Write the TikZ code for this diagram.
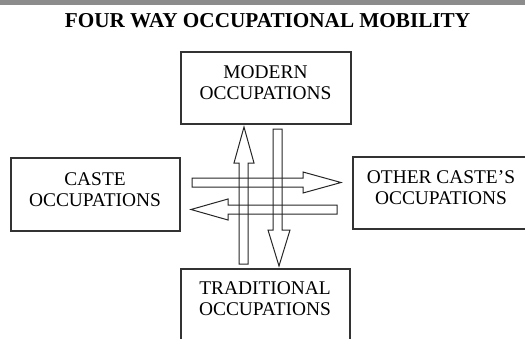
\documentclass[tikz,border=0pt]{standalone}
\usepackage{fontspec}
\setmainfont{Liberation Serif}

\tikzset{
  occbox/.style={draw=black!80,line width=1.4pt,inner sep=0pt},
  occtext/.style={align=center,font=\fontsize{19.4}{21}\selectfont,inner sep=0pt},
  blockarr/.style={draw=black!85,line width=1pt,line join=miter}
}

\begin{document}
\begin{tikzpicture}[x=1pt,y=-1pt]
  \clip (0,0) rectangle (525,338);
  \useasboundingbox (0,0) rectangle (525,338);
  % header rule and title
  \fill[black!45] (0,0) rectangle (525,4.5);
  \node[font=\fontsize{21.2}{24}\selectfont\bfseries,inner sep=0pt] (title) at (267.5,20.5)
    {FOUR WAY OCCUPATIONAL MOBILITY};

  % the four occupation boxes
  \node[occbox,minimum width=170pt,minimum height=72pt] (modern) at (266,88) {};
  \node[occtext] (modernt) at (265.5,82.5) {MODERN\\OCCUPATIONS};
  \node[occbox,minimum width=169pt,minimum height=73pt] (caste) at (95.5,194.5) {};
  \node[occtext] (castet) at (95,190) {CASTE\\OCCUPATIONS};
  \node[occbox,minimum width=180pt,minimum height=72pt] (other) at (443,193) {};
  \node[occtext] (othert) at (441,188) {OTHER CASTE'S\\OCCUPATIONS};
  \node[occbox,minimum width=169pt,minimum height=90pt] (trad) at (265.5,314) {};
  \node[occtext] (tradt) at (265,299) {TRADITIONAL\\OCCUPATIONS};

  % hollow block arrows, outlines only
  % up
  \draw[blockarr] (239,264) -- (239,163) -- (234,163) -- (244,127) -- (254,163)
    -- (248,163) -- (248,264) -- cycle;
  % down
  \draw[blockarr] (273,129) -- (273,230) -- (268,230) -- (279,266) -- (290,230)
    -- (282,230) -- (282,129) -- cycle;
  % right
  \draw[blockarr] (192,178) -- (303,178) -- (303,172) -- (341,182.5) -- (303,193)
    -- (303,187) -- (192,187) -- cycle;
  % left
  \draw[blockarr] (337,205) -- (228,205) -- (228,199) -- (191,209.5) -- (228,220)
    -- (228,214) -- (337,214) -- cycle;
\end{tikzpicture}
\end{document}
